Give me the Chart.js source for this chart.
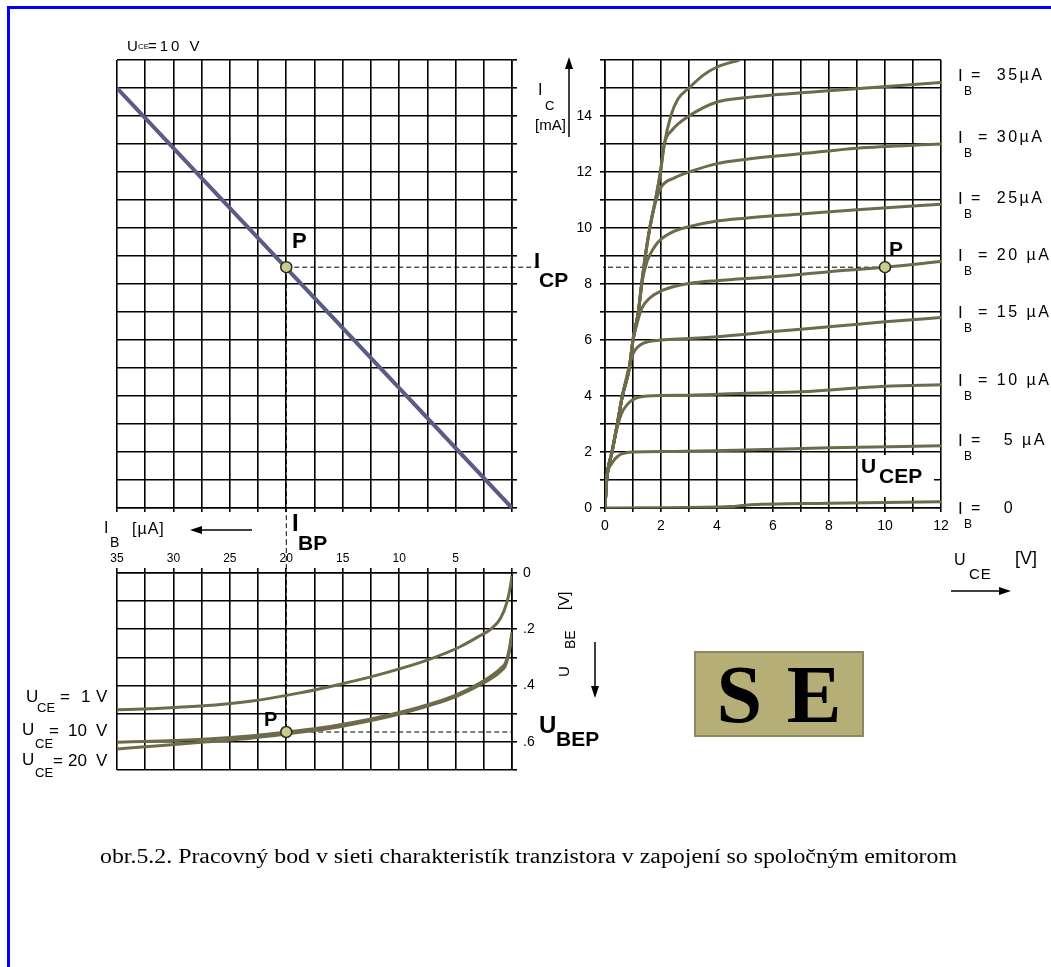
<!DOCTYPE html>
<html lang="sk">
<head>
<meta charset="utf-8">
<title>Pracovný bod tranzistora – zapojenie SE</title>
<script src="https://cdn.jsdelivr.net/npm/chart.js@4.4.1/dist/chart.umd.min.js"></script>
<style>
  html, body { margin: 0; padding: 0; background: #fff; }
  #page { position: relative; width: 1051px; height: 967px; overflow: hidden;
          font-family: "Liberation Sans", Arial, sans-serif; color: #000; }
  #page canvas { position: absolute; }
  #frame { position: absolute; left: 7px; top: 6px; width: 1100px; height: 1000px;
           border-left: 3px solid #0000ff; border-top: 3px solid #0000ff; }
  .t { position: absolute; white-space: nowrap; line-height: 1; }
  .b { font-weight: bold; }
  .ib { position: absolute; left: 958px; width: 120px; height: 30px; }
  .ib .i { position: absolute; left: 0; top: 0; font-size: 17px; line-height: 1; }
  .ib .s { position: absolute; left: 6px; top: 18px; font-size: 12px; line-height: 1; }
  .ib .v { position: absolute; left: 13px; top: 0; font-size: 16px; line-height: 1; letter-spacing: 2.5px; white-space: pre; }
  .mask { position: absolute; background: #fff; }
  #se { position: absolute; left: 694px; top: 651px; width: 166px; height: 82px;
        background: #b5ae76; border: 2px solid #8c8862;
        font-family: "Liberation Serif", "Times New Roman", serif; font-weight: bold;
        font-size: 82px; line-height: 84px; text-align: center; word-spacing: 4px; }
  #caption { font-family: "Liberation Serif", "Times New Roman", serif; font-size: 20px;
             transform-origin: 0 0; }
  #ubeLabel { position: absolute; left: 556px; top: 677px; width: 100px; height: 20px;
              transform-origin: 0 0; transform: rotate(-90deg); }
  svg { position: absolute; left: 0; top: 0; }
</style>
</head>
<body>
<div id="page">
  <div id="frame"></div>

  <canvas id="transfer" width="560" height="540" style="left:0;top:0"></canvas>
  <canvas id="output" width="491" height="540" style="left:560px;top:0"></canvas>
  <canvas id="input" width="560" height="260" style="left:0;top:540px"></canvas>

  <!-- axis arrows -->
  <svg width="1051" height="967">
    <g stroke="#000" stroke-width="1.5" fill="#000">
      <line x1="569" y1="137" x2="569" y2="64"/>
      <polygon points="569,57 565,69 573,69" stroke="none"/>
      <line x1="252" y1="530" x2="198" y2="530"/>
      <polygon points="190,530 202,526 202,534" stroke="none"/>
      <line x1="951" y1="591" x2="1003" y2="591"/>
      <polygon points="1011,591 999,587 999,595" stroke="none"/>
      <line x1="595" y1="642" x2="595" y2="690"/>
      <polygon points="595,698 591,686 599,686" stroke="none"/>
    </g>
  </svg>

  <!-- transfer characteristic -->
  <span class="t" style="left:127px;top:38px;font-size:15px">U</span>
  <span class="t" style="left:138px;top:43px;font-size:8px">CE</span>
  <span class="t" style="left:148px;top:38px;font-size:15px;letter-spacing:3px">=10 V</span>
  <span class="t b" style="left:292px;top:230px;font-size:22px">P</span>
  <span class="t" style="left:104px;top:520px;font-size:16px">I</span>
  <span class="t" style="left:110px;top:535px;font-size:14px">B</span>
  <span class="t" style="left:132px;top:521px;font-size:16px;letter-spacing:1px">[µA]</span>
  <span class="t b" style="left:292px;top:511px;font-size:24px">I</span>
  <span class="t b" style="left:298px;top:532px;font-size:21px">BP</span>

  <!-- output characteristics -->
  <span class="t" style="left:538px;top:82px;font-size:16px">I</span>
  <span class="t" style="left:545px;top:99px;font-size:13px">C</span>
  <span class="t" style="left:535px;top:117px;font-size:15px">[mA]</span>
  <div class="mask" style="left:541px;top:261px;width:62px;height:12px"></div>
  <span class="t b" style="left:534px;top:250px;font-size:22px">I</span>
  <span class="t b" style="left:539px;top:269px;font-size:21px">CP</span>
  <span class="t b" style="left:889px;top:238px;font-size:21px">P</span>
  <div class="mask" style="left:858px;top:455px;width:76px;height:42px"></div>
  <span class="t b" style="left:861px;top:455px;font-size:21px">U</span>
  <span class="t b" style="left:879px;top:465px;font-size:21px">CEP</span>

  <div class="ib" style="top:67px"><span class="i">I</span><span class="s">B</span><span class="v">=  35µA</span></div>
  <div class="ib" style="top:129px"><span class="i">I</span><span class="s">B</span><span class="v"> = 30µA</span></div>
  <div class="ib" style="top:190px"><span class="i">I</span><span class="s">B</span><span class="v">=  25µA</span></div>
  <div class="ib" style="top:247px"><span class="i">I</span><span class="s">B</span><span class="v"> = 20 µA</span></div>
  <div class="ib" style="top:304px"><span class="i">I</span><span class="s">B</span><span class="v"> = 15 µA</span></div>
  <div class="ib" style="top:372px"><span class="i">I</span><span class="s">B</span><span class="v"> = 10 µA</span></div>
  <div class="ib" style="top:432px"><span class="i">I</span><span class="s">B</span><span class="v">=   5 µA</span></div>
  <div class="ib" style="top:500px"><span class="i">I</span><span class="s">B</span><span class="v">=   0</span></div>

  <span class="t" style="left:954px;top:552px;font-size:16px">U</span>
  <span class="t" style="left:969px;top:566px;font-size:15px;letter-spacing:1px">CE</span>
  <span class="t" style="left:1015px;top:549px;font-size:18px">[V]</span>

  <!-- input characteristics -->
  <div id="ubeLabel">
    <span class="t" style="left:0;top:0;font-size:15px">U</span>
    <span class="t" style="left:28px;top:7px;font-size:14px">BE</span>
    <span class="t" style="left:67px;top:0;font-size:15px">[V]</span>
  </div>
  <span class="t b" style="left:539px;top:713px;font-size:24px">U</span>
  <span class="t b" style="left:556px;top:728px;font-size:21px">BEP</span>
  <span class="t b" style="left:264px;top:709px;font-size:20px">P</span>

  <span class="t" style="left:26px;top:688px;font-size:17px">U</span>
  <span class="t" style="left:37px;top:701px;font-size:13px">CE</span>
  <span class="t" style="left:60px;top:688px;font-size:17px">=</span>
  <span class="t" style="left:81px;top:688px;font-size:17px">1</span>
  <span class="t" style="left:96px;top:688px;font-size:17px">V</span>

  <span class="t" style="left:22px;top:721px;font-size:17px">U</span>
  <span class="t" style="left:35px;top:737px;font-size:13px">CE</span>
  <span class="t" style="left:49px;top:722px;font-size:17px">=</span>
  <span class="t" style="left:68px;top:722px;font-size:17px">10</span>
  <span class="t" style="left:96px;top:722px;font-size:17px">V</span>

  <span class="t" style="left:22px;top:751px;font-size:17px">U</span>
  <span class="t" style="left:35px;top:766px;font-size:13px">CE</span>
  <span class="t" style="left:53px;top:752px;font-size:17px">=</span>
  <span class="t" style="left:68px;top:752px;font-size:17px">20</span>
  <span class="t" style="left:96px;top:752px;font-size:17px">V</span>

  <div id="se">S E</div>

  <div id="caption" class="t" style="left:100px;top:846px">obr.5.2. Pracovný bod v sieti charakteristík tranzistora v zapojení so spoločným emitorom</div>
</div>

<script>
// ---- operating point ----
const IBP = 20;      // base current at P [µA]
const ICP = 8.6;     // collector current at P [mA]
const UCEP = 10;     // collector-emitter voltage at P [V]
const UBEP = 0.565;  // base-emitter voltage at P [V]

// ---- transfer characteristic I_C = f(I_B), U_CE = 10 V ----
const transferIb = [35, 0];
const transferIc = [15, 0];

// ---- output characteristics I_C = f(U_CE) for each base current ----
const uceIb0  = [0, 1.5, 4.5, 5, 8, 12];
const icIb0   = [0, 0.01, 0.05, 0.1, 0.17, 0.22];
const uceIb5  = [0, 0.06, 0.25, 0.5, 0.75, 1, 2.5, 5, 8, 12];
const icIb5   = [0, 1, 1.6, 1.88, 1.97, 2.0, 2.02, 2.07, 2.15, 2.22];
const uceIb10 = [0, 0.06, 0.25, 0.44, 0.6, 0.8, 1, 1.5, 3, 5, 7, 10, 12];
const icIb10  = [0, 1, 2, 2.9, 3.4, 3.7, 3.87, 4.0, 4.03, 4.1, 4.15, 4.35, 4.4];
const uceIb15 = [0, 0.06, 0.25, 0.44, 0.62, 0.8, 1, 1.3, 2, 3, 4, 6, 8, 10, 12];
const icIb15  = [0, 1, 2, 3, 4, 4.8, 5.5, 5.85, 6.0, 6.05, 6.12, 6.3, 6.47, 6.65, 6.8];
const uceIb20 = [0, 0.06, 0.25, 0.44, 0.62, 0.87, 1.0, 1.15, 1.3, 1.6, 2, 2.5, 3, 4, 6, 8, 10, 12];
const icIb20  = [0, 1, 2, 3, 4, 5, 6, 6.6, 7.1, 7.5, 7.75, 7.92, 8.02, 8.12, 8.26, 8.44, 8.6, 8.8];
const uceIb25 = [0, 0.06, 0.25, 0.44, 0.62, 0.87, 1, 1.19, 1.31, 1.5, 1.75, 2, 2.5, 3, 4, 5, 7, 9, 12];
const icIb25  = [0, 1, 2, 3, 4, 5, 6, 7, 8, 8.8, 9.3, 9.6, 9.9, 10.05, 10.25, 10.35, 10.5, 10.65, 10.85];
const uceIb30 = [0, 0.06, 0.25, 0.44, 0.62, 0.87, 1, 1.19, 1.31, 1.44, 1.6, 1.8, 2.0, 2.5, 3, 4, 5, 7, 9, 12];
const icIb30  = [0, 1, 2, 3, 4, 5, 6, 7, 8, 9, 10, 10.9, 11.45, 11.8, 12.0, 12.3, 12.45, 12.65, 12.85, 13.0];
const uceIb35 = [0, 0.06, 0.25, 0.44, 0.62, 0.87, 1, 1.19, 1.31, 1.44, 1.6, 1.8, 1.98, 2.12, 2.4, 3, 4, 5, 8, 12];
const icIb35  = [0, 1, 2, 3, 4, 5, 6, 7, 8, 9, 10, 11, 12, 13, 13.5, 14.0, 14.5, 14.65, 14.9, 15.2];
const uceIb40 = [0, 0.06, 0.25, 0.44, 0.62, 0.87, 1, 1.19, 1.31, 1.44, 1.6, 1.8, 1.98, 2.12, 2.35, 2.6, 3, 3.5, 4, 4.8];
const icIb40  = [0, 1, 2, 3, 4, 5, 6, 7, 8, 9, 10, 11, 12, 13, 14, 14.6, 15.0, 15.45, 15.75, 16];

// ---- input characteristics U_BE = f(I_B) ----
const ibUce1   = [0, 0.15, 0.42, 1.0, 1.9, 2.8, 4.6, 7.2, 9.9, 12.6, 15.2, 18.8, 23.2, 27.6, 32, 35];
const ubeUce1  = [0.01, 0.05, 0.1, 0.16, 0.2, 0.222, 0.262, 0.305, 0.34, 0.37, 0.395, 0.426, 0.456, 0.473, 0.482, 0.486];
const ibUce10  = [0, 0.24, 0.59, 0.9, 1.48, 2.81, 5.03, 7.24, 9.9, 12.6, 16.1, 20, 23, 27, 31, 35];
const ubeUce10 = [0.21, 0.27, 0.32, 0.335, 0.355, 0.39, 0.435, 0.465, 0.495, 0.52, 0.545, 0.565, 0.578, 0.59, 0.597, 0.601];
const ibUce20  = [0, 0.24, 0.59, 0.9, 1.48, 2.81, 5.03, 7.24, 9.9, 12.6, 16.1, 20, 23, 27, 31, 35];
const ubeUce20 = [0.22, 0.28, 0.33, 0.345, 0.365, 0.397, 0.44, 0.47, 0.5, 0.525, 0.552, 0.572, 0.586, 0.6, 0.613, 0.625];

// ---- styling ----
const INK = '#000';
const GRID_W = 1.6;
const CURVE = '#6d6b4a';
const LOAD = '#5b5b85';
const POINT_FILL = '#cbcb8f';
const SANS = '"Liberation Sans", Arial, sans-serif';
const NARROW = '"Liberation Sans Narrow", "Liberation Sans", Arial, sans-serif';

Chart.defaults.font.family = SANS;
Chart.defaults.color = INK;

const pairs = (xs, ys) => xs.map((x, i) => ({ x, y: ys[i] }));

function curve(xs, ys, color, width) {
  return {
    type: 'line', data: pairs(xs, ys), borderColor: color, borderWidth: width,
    pointRadius: 0, fill: false, cubicInterpolationMode: 'monotone', order: 1
  };
}
function marker(x, y) {
  return {
    type: 'scatter', data: [{ x, y }], pointRadius: 5.5, pointBackgroundColor: POINT_FILL,
    pointBorderColor: '#2a2a20', pointBorderWidth: 1.5, order: 0
  };
}
function axis(o) {
  return {
    type: 'linear', min: o.min, max: o.max, reverse: !!o.reverse, position: o.position,
    afterFit: o.fit,
    grid: { color: INK, lineWidth: GRID_W, drawTicks: true, tickLength: o.tick || 5,
            tickColor: INK, tickWidth: GRID_W },
    border: { display: true, color: INK, width: GRID_W },
    ticks: {
      display: !!o.label, stepSize: o.step, autoSkip: false, maxRotation: 0,
      padding: o.pad || 6, color: INK, font: { size: o.size || 13, family: o.family || SANS },
      callback: o.label || (() => '')
    }
  };
}
function dashed(ctx, x1, y1, x2, y2) {
  ctx.save();
  ctx.strokeStyle = INK; ctx.lineWidth = 1; ctx.setLineDash([5, 3]);
  ctx.beginPath(); ctx.moveTo(x1, y1); ctx.lineTo(x2, y2); ctx.stroke();
  ctx.restore();
}
const common = {
  responsive: false, animation: false, devicePixelRatio: 1, events: [],
  plugins: { legend: { display: false }, tooltip: { enabled: false } }
};

// transfer characteristic (top left)
new Chart(document.getElementById('transfer'), {
  type: 'line',
  data: { datasets: [ marker(IBP, ICP), curve(transferIb, transferIc, LOAD, 4) ] },
  options: Object.assign({}, common, {
    layout: { padding: { left: 117, top: 60, right: 0, bottom: 0 }, autoPadding: false },
    scales: {
      x: axis({ min: 0, max: 35, step: 2.5, reverse: true, position: 'bottom', tick: 4,
                fit: s => { s.height = 32; } }),
      y: axis({ min: 0, max: 16, step: 1, position: 'right', tick: 5,
                fit: s => { s.width = 48; } })
    }
  }),
  plugins: [{
    id: 'guidesTransfer',
    beforeDatasetsDraw(c) {
      const px = c.scales.x.getPixelForValue(IBP), py = c.scales.y.getPixelForValue(ICP);
      dashed(c.ctx, px, py, c.width, py);
      dashed(c.ctx, px, py, px, c.height);
    }
  }]
});

// output characteristics (top right)
const evenLabel = max => v => (v % 2 === 0 && v < max) ? String(v) : '';
new Chart(document.getElementById('output'), {
  type: 'line',
  data: { datasets: [
    marker(UCEP, ICP),
    curve(uceIb0, icIb0, CURVE, 3), curve(uceIb5, icIb5, CURVE, 3),
    curve(uceIb10, icIb10, CURVE, 3), curve(uceIb15, icIb15, CURVE, 3),
    curve(uceIb20, icIb20, CURVE, 3), curve(uceIb25, icIb25, CURVE, 3),
    curve(uceIb30, icIb30, CURVE, 3), curve(uceIb35, icIb35, CURVE, 3),
    curve(uceIb40, icIb40, CURVE, 3)
  ] },
  options: Object.assign({}, common, {
    layout: { padding: { left: 0, top: 60, right: 110, bottom: 0 }, autoPadding: false },
    scales: {
      x: axis({ min: 0, max: 12, step: 1, position: 'bottom', tick: 4, pad: 6, size: 14,
                label: evenLabel(13), fit: s => { s.height = 32; } }),
      y: axis({ min: 0, max: 16, step: 1, position: 'left', tick: 5, pad: 8, size: 14,
                label: evenLabel(16), fit: s => { s.width = 45; } })
    }
  }),
  plugins: [{
    id: 'guidesOutput',
    beforeDatasetsDraw(c) {
      const px = c.scales.x.getPixelForValue(UCEP), py = c.scales.y.getPixelForValue(ICP);
      dashed(c.ctx, 0, py, px, py);
      dashed(c.ctx, px, py, px, c.chartArea.bottom + 4);
    }
  }]
});

// input characteristics (bottom left)
const ibLabel = v => (v > 0 && v % 5 === 0) ? String(v) : '';
const ubeLabel = v => {
  const k = Math.round(v * 10);
  if (Math.abs(v * 10 - k) > 1e-6 || k % 2 !== 0 || k > 6) return '';
  return k === 0 ? '0' : '.' + k;
};
new Chart(document.getElementById('input'), {
  type: 'line',
  data: { datasets: [
    marker(IBP, UBEP),
    curve(ibUce1, ubeUce1, CURVE, 3),
    curve(ibUce10, ubeUce10, CURVE, 3),
    curve(ibUce20, ubeUce20, CURVE, 3)
  ] },
  options: Object.assign({}, common, {
    layout: { padding: { left: 117, top: 0, right: 0, bottom: 30 }, autoPadding: false },
    scales: {
      x: axis({ min: 0, max: 35, step: 2.5, reverse: true, position: 'top', tick: 5, pad: 2,
                size: 12, family: NARROW, label: ibLabel, fit: s => { s.height = 33; } }),
      y: axis({ min: 0, max: 0.7, step: 0.1, reverse: true, position: 'right', tick: 5, pad: 6,
                size: 14, label: ubeLabel, fit: s => { s.width = 48; } })
    }
  }),
  plugins: [{
    id: 'guidesInput',
    beforeDatasetsDraw(c) {
      const px = c.scales.x.getPixelForValue(IBP), py = c.scales.y.getPixelForValue(UBEP);
      dashed(c.ctx, px, 0, px, py);
      dashed(c.ctx, px, py, c.chartArea.right, py);
    }
  }]
});

// caption spans the width of the figure
const cap = document.getElementById('caption');
const capW = cap.getBoundingClientRect().width;
cap.style.transform = 'scaleX(' + (857 / capW).toFixed(4) + ')';
</script>
</body>
</html>
